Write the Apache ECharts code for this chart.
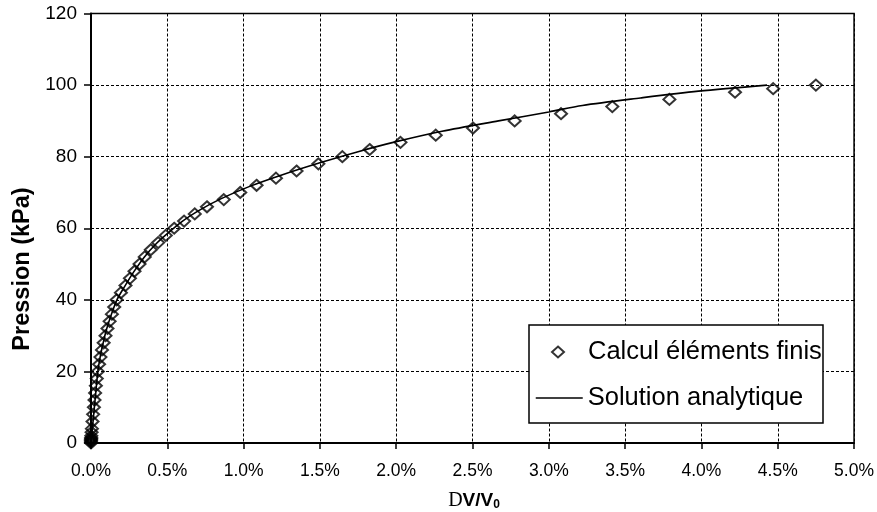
<!DOCTYPE html>
<html>
<head>
<meta charset="utf-8">
<script src="https://cdn.jsdelivr.net/npm/echarts@6/dist/echarts.min.js"></script>
<style>
html,body{margin:0;padding:0;background:#fff;}
#chart{width:877px;height:512px;}
</style>
</head>
<body>
<div id="chart"></div>
<script>
// ΔV/V0 in percent, pressure in kPa
const feX = [0, 0, 0, 0, 0.001, 0.001, 0.002, 0.004, 0.006, 0.010, 0.014, 0.019, 0.023, 0.027, 0.032, 0.038, 0.045, 0.053, 0.062, 0.072, 0.083, 0.095, 0.108, 0.122, 0.137, 0.152, 0.168, 0.196, 0.226, 0.255, 0.285, 0.318, 0.352, 0.392, 0.44, 0.49, 0.545, 0.61, 0.68, 0.76, 0.87, 0.978, 1.085, 1.212, 1.347, 1.49, 1.647, 1.826, 2.028, 2.259, 2.503, 2.776, 3.08, 3.416, 3.79, 4.22, 4.47, 4.75];
const feP = [0, 0.3, 0.6, 0.9, 1.2, 1.5, 2, 3, 4, 6, 8, 10, 12, 14, 16, 18, 20, 22, 24, 26, 28, 30, 32, 34, 36, 38, 40, 42, 44, 46, 48, 50, 52, 54, 56, 58, 60, 62, 64, 66, 68, 70, 72, 74, 76, 78, 80, 82, 84, 86, 88, 90, 92, 94, 96, 98, 99, 100];
const anX = [0, 0.01, 0.02, 0.03, 0.045, 0.06, 0.08, 0.1, 0.13, 0.17, 0.22, 0.28, 0.35, 0.43, 0.5, 0.6, 0.7, 0.85, 1.04, 1.25, 1.5, 1.75, 2.0, 2.3, 2.67, 3.0, 3.22, 3.6, 3.98, 4.43];
const anP = [0, 4.5, 9, 13.5, 20, 24, 28, 31.5, 35.5, 40, 43.7, 47.8, 52, 55.8, 58.5, 62, 64.8, 68.2, 71.7, 74.9, 78.3, 81.4, 84.2, 87.1, 90, 92.5, 94.3, 96.4, 98.3, 100];
const xTicks = [0, 0.5, 1.0, 1.5, 2.0, 2.5, 3.0, 3.5, 4.0, 4.5, 5.0];
const yTicks = [0, 20, 40, 60, 80, 100, 120];
const seriesNames = ['Calcul éléments finis', 'Solution analytique'];

const FONT = 'Liberation Sans, Arial, sans-serif';
const chart = echarts.init(document.getElementById('chart'), null, {renderer: 'canvas'});
const feData = feX.map((x, i) => [x, feP[i]]);
const anData = anX.map((x, i) => [x, anP[i]]);

chart.setOption({
  animation: false,
  backgroundColor: '#fff',
  grid: {left: 91, right: 21, top: 13.5, bottom: 69, show: true, borderColor: '#000', borderWidth: 1.5, backgroundColor: 'transparent'},
  xAxis: {
    type: 'value', min: xTicks[0], max: xTicks[xTicks.length - 1], interval: 0.5,
    axisLine: {show: true, lineStyle: {color: '#000', width: 2}},
    axisTick: {show: true, length: 6, lineStyle: {color: '#000', width: 1.5}},
    axisLabel: {color: '#000', fontFamily: FONT, fontSize: 17.5, margin: 19, formatter: v => v.toFixed(1) + '%'},
    splitLine: {show: true, lineStyle: {color: '#000', width: 1, type: [3, 2]}}
  },
  yAxis: {
    type: 'value', min: yTicks[0], max: yTicks[yTicks.length - 1], interval: 20,
    axisLine: {show: true, lineStyle: {color: '#000', width: 2}},
    axisTick: {show: true, length: 7, lineStyle: {color: '#000', width: 1.5}},
    axisLabel: {color: '#000', fontFamily: FONT, fontSize: 19, margin: 14},
    splitLine: {show: true, lineStyle: {color: '#000', width: 1, type: [3, 2]}}
  },
  graphic: [
    {type: 'rect', z: 10, shape: {x: 529, y: 325, width: 294, height: 98}, style: {fill: '#fff', stroke: '#000', lineWidth: 1.5}},
    {type: 'text', z: 10, x: 22.5, y: 269, rotation: Math.PI / 2,
      style: {text: 'Pression (kPa)', font: 'bold 23.5px ' + FONT, fill: '#000', align: 'center', verticalAlign: 'middle'}},
    {type: 'text', z: 10, x: 474, y: 501,
      style: {
        text: '{d|D}{v|V/V}{s|0}',
        align: 'center', verticalAlign: 'middle',
        rich: {
          d: {fontFamily: 'Liberation Serif, DejaVu Serif, serif', fontSize: 20, fill: '#000', color: '#000'},
          v: {fontFamily: FONT, fontWeight: 'bold', fontSize: 19, fill: '#000', color: '#000'},
          s: {fontFamily: FONT, fontWeight: 'bold', fontSize: 12, fill: '#000', color: '#000', verticalAlign: 'bottom', padding: [8, 0, 0, 0]}
        }
      }}
  ],
  legend: [
    {data: [seriesNames[0]], z: 20, left: 551, top: 339, orient: 'vertical', itemWidth: 12, itemHeight: 11, itemGap: 0, padding: 0,
      icon: 'diamond', itemStyle: {color: 'transparent', borderColor: '#000', borderWidth: 2}},
    {data: [seriesNames[1]], z: 20, left: 535, top: 385, orient: 'vertical', itemWidth: 47, itemHeight: 12, itemGap: 0, padding: 0,
      itemStyle: {opacity: 0},
      lineStyle: {color: '#000', width: 1.5, opacity: 1},
      textStyle: {color: '#000', fontFamily: FONT, fontSize: 25.5, padding: [0, 0, 0, 0]}}
  ],
  series: [
    {name: seriesNames[0], type: 'scatter', data: feData, symbol: 'diamond', symbolSize: [12, 11], z: 3,
      itemStyle: {color: 'transparent', borderColor: '#000', borderWidth: 2}},
    {name: seriesNames[1], type: 'line', data: anData, symbol: 'none', showSymbol: false, smooth: 0.3, z: 2,
      itemStyle: {color: '#000'},
      lineStyle: {color: '#000', width: 1.6}}
  ]
});
// legend text style for first legend (set after to keep icon offset)
chart.setOption({legend: [{textStyle: {color: '#000', fontFamily: FONT, fontSize: 25.5, padding: [0, 0, 0, 19]}}, {}]});
</script>
</body>
</html>
